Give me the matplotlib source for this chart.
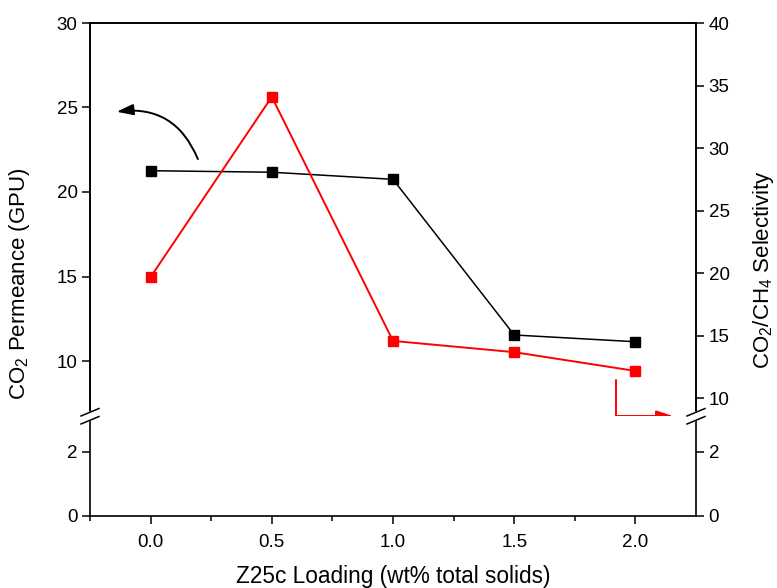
import matplotlib
matplotlib.use('Agg')
import matplotlib.pyplot as plt
from matplotlib.lines import Line2D
from matplotlib.patches import Polygon

plt.rcParams['font.family'] = ['Liberation Sans', 'DejaVu Sans']
plt.rcParams['mathtext.fontset'] = 'custom'
plt.rcParams['mathtext.rm'] = 'Liberation Sans'
plt.rcParams['mathtext.it'] = 'Liberation Sans'

# data
loading = [0.0, 0.5, 1.0, 1.5, 2.0]
permeance = [21.26, 21.17, 20.75, 11.54, 11.14]     # GPU, left axis
selectivity = [19.7, 34.1, 14.6, 13.7, 12.2]        # CO2/CH4, right axis
x_ticks = [0.0, 0.5, 1.0, 1.5, 2.0]
left_ticks_top = [10, 15, 20, 25, 30]
right_ticks_top = [10, 15, 20, 25, 30, 35, 40]
low_ticks = [0, 2]

fig = plt.figure(figsize=(7.77, 5.88), dpi=100)
W, H = 777, 588
x0, x1 = 90 / W, 696 / W
y_top, y_brk, y_bot = 1 - 23 / H, 1 - 416 / H, 1 - 516 / H

ax = fig.add_axes([x0, y_brk, x1 - x0, y_top - y_brk])
axr = ax.twinx()
axl = fig.add_axes([x0, y_bot, x1 - x0, y_brk - y_bot])

lw_sp = 1.2
tick_kw = dict(direction='out', length=6, width=1.1, labelsize=13.5, pad=3)

# upper part
ax.plot(loading, permeance, color='black', lw=1.1, marker='s', ms=6.5, zorder=3)
axr.plot(loading, selectivity, color='#ff0000', lw=1.4, marker='s', ms=6.5, zorder=3)
ax.set_xlim(-0.25, 2.25)
ax.set_ylim(10 - (416 - 361) / 16.9, 30)
axr.set_ylim(8.6, 40)
ax.set_yticks(left_ticks_top)
axr.set_yticks(right_ticks_top)
ax.set_xticks([])
for a in (ax, axr):
    a.spines['bottom'].set_visible(False)
    for s in a.spines.values():
        s.set_linewidth(lw_sp)
    a.tick_params(axis='y', **tick_kw)

# lower part
axl.set_xlim(-0.25, 2.25)
axl.set_ylim(0, 100 / 32)
axl.set_yticks(low_ticks)
axl.set_xticks(x_ticks)
axl.set_xticks([0.25 * i - 0.25 for i in range(10) if (0.25 * i - 0.25) not in x_ticks], minor=True)
axl.set_xticklabels(['%.1f' % v for v in x_ticks])
axl.spines['top'].set_visible(False)
for s in axl.spines.values():
    s.set_linewidth(lw_sp)
axl.tick_params(axis='both', which='major', right=True, labelright=True, **tick_kw)
axl.tick_params(axis='x', which='minor', direction='out', length=3.5, width=1.1)
axl.tick_params(axis='x', pad=7)
axl.set_xlabel('Z25c Loading (wt% total solids)', fontsize=16.3, labelpad=10)

# axis labels
fig.text(20 / W, 1 - 284 / H, r'CO$_2$ Permeance (GPU)', rotation=90,
         ha='center', va='center', fontsize=16)
fig.text(764 / W, 1 - 270 / H, r'CO$_2$/CH$_4$ Selectivity', rotation=90,
         ha='center', va='center', fontsize=16)

# axis break marks
for xc in (90, 696):
    gap = Polygon([((xc - 9) / W, 1 - 416 / H), ((xc + 9) / W, 1 - 408.5 / H),
                   ((xc + 9) / W, 1 - 416.5 / H), ((xc - 9) / W, 1 - 424 / H)],
                  closed=True, transform=fig.transFigure, color='white', zorder=10)
    fig.add_artist(gap)
    for dy in (0, 8):
        fig.add_artist(Line2D([(xc - 9) / W, (xc + 9) / W],
                              [1 - (416 + dy) / H, 1 - (408.5 + dy) / H],
                              transform=fig.transFigure, color='black', lw=1.1, zorder=11))

# arrows pointing to the axes
head = '-|>,head_length=1.0,head_width=0.33'
ax.annotate('', xy=(-0.14, 24.75), xytext=(0.195, 21.95),
            arrowprops=dict(arrowstyle=head, connectionstyle='arc3,rad=0.38',
                            color='black', lw=1.4, shrinkA=0, shrinkB=0))
axr.annotate('', xy=(2.155, 8.6), xytext=(1.918, 11.45),
             arrowprops=dict(arrowstyle=head, connectionstyle='angle,angleA=90,angleB=0,rad=0',
                             color='#ff0000', lw=1.4, shrinkA=0, shrinkB=0),
             annotation_clip=False)

fig.savefig('out.png', dpi=100)
